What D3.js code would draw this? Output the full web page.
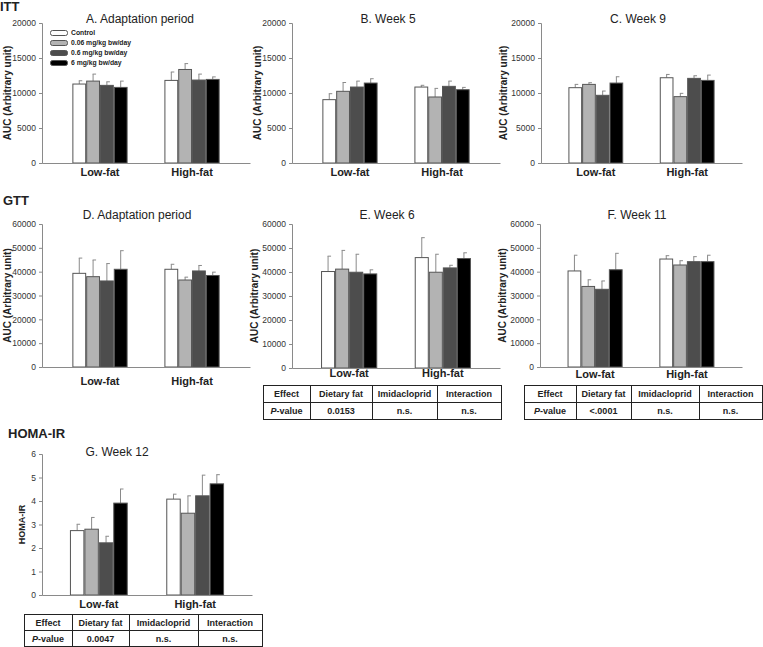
<!DOCTYPE html>
<html>
<head>
<meta charset="utf-8">
<script src="https://cdn.jsdelivr.net/npm/d3@7"></script>
<style>
html,body{margin:0;padding:0;background:#fff;}
svg{display:block;font-family:"Liberation Sans",Arial,sans-serif;}
</style>
</head>
<body>
<svg id="chart" width="763" height="647"></svg>
<script>
// ---------- DATA ----------
const groups = ["Low-fat", "High-fat"];
const doses = ["Control", "0.06 mg/kg bw/day", "0.6 mg/kg bw/day", "6 mg/kg bw/day"];

const ittTicks = [0, 5000, 10000, 15000, 20000];
const gttTicks = [0, 10000, 20000, 30000, 40000, 50000, 60000];
const homaTicks = [0, 1, 2, 3, 4, 5, 6];

// means [Low-fat, High-fat] x 4 doses ; upper error (SE)
const ittAdaptMean = [[11280, 11700, 11090, 10800], [11800, 13360, 11850, 11940]];
const ittAdaptErr  = [[470, 1000, 510, 900], [1200, 840, 850, 360]];
const ittW5Mean = [[9050, 10240, 10850, 11420], [10850, 9430, 10950, 10470]];
const ittW5Err  = [[850, 1260, 850, 620], [250, 1230, 750, 330]];
const ittW9Mean = [[10760, 11230, 9670, 11420], [12180, 9480, 12090, 11800]];
const ittW9Err  = [[470, 240, 610, 900], [470, 470, 370, 760]];

const gttAdaptMean = [[39300, 37900, 36100, 41000], [41000, 36500, 40300, 38400]];
const gttAdaptErr  = [[6400, 7000, 7300, 7800], [2100, 1200, 2300, 1400]];
const gttW6Mean = [[40200, 41200, 39900, 39200], [46000, 39900, 41700, 45600]];
const gttW6Err  = [[6400, 7800, 7500, 1700], [8300, 7500, 1100, 2400]];
const gttW11Mean = [[40300, 33800, 32600, 40800], [45300, 42800, 44200, 44200]];
const gttW11Err  = [[6600, 2800, 3500, 6900], [1400, 1800, 2100, 2700]];

const homaW12Mean = [[2.74, 2.80, 2.22, 3.91], [4.08, 3.48, 4.22, 4.73]];
const homaW12Err  = [[0.27, 0.50, 0.28, 0.60], [0.21, 0.74, 0.88, 0.39]];

const tableHeader = ["Effect", "Dietary fat", "Imidacloprid", "Interaction"];
const pvalW6 = ["0.0153", "n.s.", "n.s."];
const pvalW11 = ["<.0001", "n.s.", "n.s."];
const pvalHoma = ["0.0047", "n.s.", "n.s."];

// ---------- STYLE ----------
const fills = ["#ffffff", "#b3b3b3", "#4d4d4d", "#000000"];
const strokeCol = "#555";
const axisCol = "#8a8a8a";
const textCol = "#222";

const svg = d3.select("#chart");

// section labels
const sections = [["ITT", 0, 11], ["GTT", 3, 205], ["HOMA-IR", 8, 438]];
sections.forEach(s => svg.append("text").attr("x", s[1]).attr("y", s[2])
  .attr("font-size", 13).attr("font-weight", "bold").attr("fill", textCol).text(s[0]));

function panel(cfg) {
  const g = svg.append("g");
  const x = d3.scaleBand().domain(groups).range([cfg.x0, cfg.x1])
    .paddingInner(0.4).paddingOuter(cfg.po);
  const xi = d3.scaleBand().domain(doses).range([0, x.bandwidth()]);
  const y = d3.scaleLinear().domain([0, cfg.ticks[cfg.ticks.length - 1]]).range([cfg.yb, cfg.yt]);

  // y axis
  const ya = g.append("g").attr("transform", `translate(${cfg.x0},0)`)
    .call(d3.axisLeft(y).tickValues(cfg.ticks).tickSize(3).tickPadding(3).tickFormat(d3.format("d")));
  ya.select(".domain").attr("stroke", axisCol);
  ya.selectAll(".tick line").attr("stroke", axisCol);
  ya.selectAll("text").attr("font-size", 8.5).attr("fill", "#333").attr("font-family", "Liberation Sans, Arial, sans-serif");

  // bars
  cfg.mean.forEach((row, gi) => {
    row.forEach((v, di) => {
      const bx = x(groups[gi]) + xi(doses[di]);
      const bw = xi.bandwidth();
      const e = cfg.err[gi][di];
      // error bar (upper only)
      g.append("line").attr("x1", bx + bw / 2).attr("x2", bx + bw / 2)
        .attr("y1", y(v)).attr("y2", y(v + e)).attr("stroke", axisCol).attr("stroke-width", 1);
      g.append("line").attr("x1", bx + bw / 2 - 0.5).attr("x2", bx + bw / 2 + 3)
        .attr("y1", y(v + e)).attr("y2", y(v + e)).attr("stroke", axisCol).attr("stroke-width", 1);
      g.append("rect").attr("x", bx + 0.5).attr("y", y(v)).attr("width", bw - 1)
        .attr("height", y(0) - y(v)).attr("fill", fills[di]).attr("stroke", strokeCol).attr("stroke-width", 1);
    });
  });

  // x axis
  const xa = g.append("g").attr("transform", `translate(0,${cfg.yb})`)
    .call(d3.axisBottom(x).tickSize(0).tickPadding(cfg.lab));
  xa.select(".domain").attr("stroke", axisCol);
  xa.selectAll("text").attr("font-size", 11).attr("font-weight", "bold").attr("fill", textCol)
    .attr("font-family", "Liberation Sans, Arial, sans-serif");

  // title
  g.append("text").attr("x", cfg.tx).attr("y", cfg.ty).attr("text-anchor", "middle")
    .attr("font-size", 12).attr("fill", textCol).text(cfg.title);

  // y label
  g.append("text").attr("transform", `translate(${cfg.ylx},${(cfg.yt + cfg.yb) / 2}) rotate(-90)`)
    .attr("text-anchor", "middle").attr("font-size", cfg.ylfs).attr("font-weight", "bold")
    .attr("fill", textCol).text(cfg.ylabel);
  return {x, y};
}

const auc = "AUC (Arbitrary unit)";
panel({x0: 42, x1: 250, po: 0.33, yt: 23, yb: 163, ticks: ittTicks, mean: ittAdaptMean, err: ittAdaptErr,
  title: "A. Adaptation period", tx: 140, ty: 23, ylabel: auc, ylx: 11, ylfs: 10, lab: 5});
panel({x0: 292, x1: 500, po: 0.33, yt: 23, yb: 163, ticks: ittTicks, mean: ittW5Mean, err: ittW5Err,
  title: "B. Week 5", tx: 388, ty: 23, ylabel: auc, ylx: 261, ylfs: 10, lab: 5});
panel({x0: 541, x1: 742, po: 0.3, yt: 23, yb: 163, ticks: ittTicks, mean: ittW9Mean, err: ittW9Err,
  title: "C. Week 9", tx: 638, ty: 23, ylabel: auc, ylx: 507, ylfs: 10, lab: 5});

panel({x0: 42, x1: 250, po: 0.33, yt: 224, yb: 367, ticks: gttTicks, mean: gttAdaptMean, err: gttAdaptErr,
  title: "D. Adaptation period", tx: 137, ty: 219, ylabel: auc, ylx: 11, ylfs: 10, lab: 10});
panel({x0: 292, x1: 500, po: 0.31, yt: 224, yb: 368, ticks: gttTicks, mean: gttW6Mean, err: gttW6Err,
  title: "E. Week 6", tx: 387, ty: 219, ylabel: auc, ylx: 258, ylfs: 10, lab: 1.5});
panel({x0: 540, x1: 742, po: 0.3, yt: 224, yb: 367, ticks: gttTicks, mean: gttW11Mean, err: gttW11Err,
  title: "F. Week 11", tx: 637, ty: 219, ylabel: auc, ylx: 506, ylfs: 10, lab: 3});

panel({x0: 42, x1: 252, po: 0.29, yt: 454, yb: 595, ticks: homaTicks, mean: homaW12Mean, err: homaW12Err,
  title: "G. Week 12", tx: 117, ty: 456, ylabel: "HOMA-IR", ylx: 25, ylfs: 9, lab: 5});

// legend in panel A
const lg = svg.append("g");
doses.forEach((d, i) => {
  const ly = 33 + i * 10;
  lg.append("rect").attr("x", 50.5).attr("y", ly - 2.5).attr("width", 17).attr("height", 5)
    .attr("rx", 2).attr("fill", fills[i]).attr("stroke", strokeCol).attr("stroke-width", 1);
  lg.append("text").attr("x", 71).attr("y", ly + 2.4).attr("font-size", 6.8).attr("font-weight", "bold")
    .attr("fill", textCol).text(d);
});

// tables
function table(cols, rows, vals) {
  const t = svg.append("g");
  const x0 = cols[0], x1 = cols[cols.length - 1];
  t.append("rect").attr("x", x0 + 0.5).attr("y", rows[0] + 0.5).attr("width", x1 - x0)
    .attr("height", rows[2] - rows[0]).attr("fill", "#fff").attr("stroke", "#222").attr("stroke-width", 1);
  t.append("line").attr("x1", x0).attr("x2", x1).attr("y1", rows[1] + 0.5).attr("y2", rows[1] + 0.5)
    .attr("stroke", "#222");
  cols.slice(1, -1).forEach(c => t.append("line").attr("x1", c + 0.5).attr("x2", c + 0.5)
    .attr("y1", rows[0]).attr("y2", rows[2]).attr("stroke", "#222"));
  tableHeader.forEach((h, i) => {
    const cx = (cols[i] + cols[i + 1]) / 2;
    t.append("text").attr("x", cx).attr("y", (rows[0] + rows[1]) / 2 + 3.5).attr("text-anchor", "middle")
      .attr("font-size", 9).attr("font-weight", "bold").attr("fill", textCol).text(h);
    const tx = t.append("text").attr("x", cx).attr("y", (rows[1] + rows[2]) / 2 + 3.5).attr("text-anchor", "middle")
      .attr("font-size", 9).attr("font-weight", "bold").attr("fill", textCol);
    if (i === 0) {
      tx.append("tspan").attr("font-style", "italic").text("P");
      tx.append("tspan").text("-value");
    } else {
      tx.text(vals[i - 1]);
    }
  });
}
table([263, 310, 372, 437, 501], [385, 402, 419], pvalW6);
table([524, 576, 631, 699, 762], [385, 402, 419], pvalW11);
table([24, 72, 129, 198, 262], [614, 630, 646], pvalHoma);
</script>
</body>
</html>
